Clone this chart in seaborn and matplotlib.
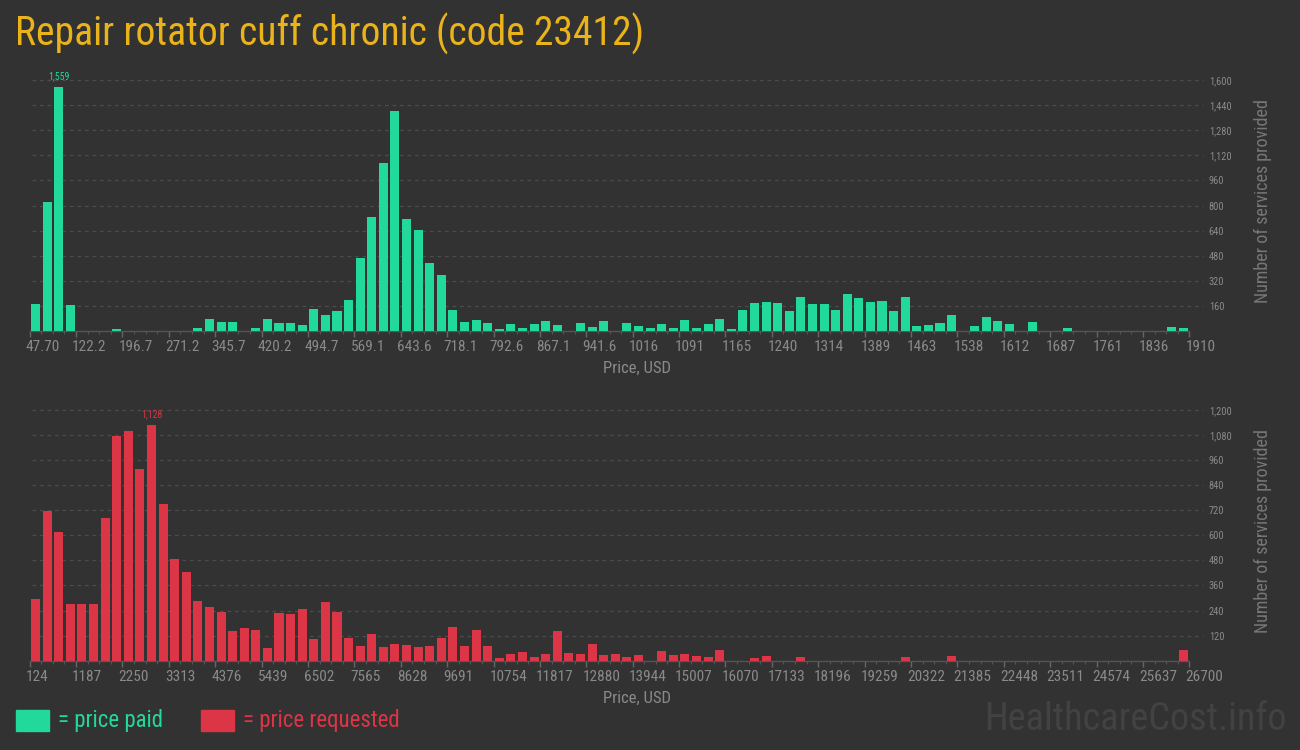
import matplotlib
matplotlib.use("Agg")
import matplotlib.pyplot as plt
from matplotlib import font_manager
from matplotlib.transforms import ScaledTranslation
import seaborn as sns
import pandas as pd

# ---------------- data ----------------
title = "Repair rotator cuff chronic (code 23412)"

paid_counts = [170, 822, 1559, 164, 0, 0, 0, 10, 0, 0,
               0, 0, 0, 0, 17, 75, 55, 55, 0, 17,
               75, 49, 49, 36, 138, 100, 126, 196, 464, 726,
               1071, 1404, 714, 643, 432, 356, 132, 55, 68, 49,
               11, 43, 17, 43, 62, 36, 0, 49, 23, 62,
               0, 49, 30, 17, 43, 17, 68, 17, 43, 75,
               11, 132, 177, 183, 177, 126, 215, 170, 170, 132,
               234, 209, 183, 190, 126, 215, 30, 36, 49, 100,
               0, 30, 87, 62, 43, 0, 55, 0, 0, 17,
               0, 0, 0, 0, 0, 0, 0, 0, 23, 17]
paid_ticks = ["47.70", "122.2", "196.7", "271.2", "345.7", "420.2", "494.7",
              "569.1", "643.6", "718.1", "792.6", "867.1", "941.6", "1016",
              "1091", "1165", "1240", "1314", "1389", "1463", "1538", "1612",
              "1687", "1761", "1836", "1910"]
paid_yticks = [160, 320, 480, 640, 800, 960, 1120, 1280, 1440, 1600]

req_counts = [295, 717, 616, 271, 271, 271, 683, 1076, 1100, 918,
              1128, 750, 487, 425, 286, 257, 233, 142, 156, 147,
              61, 228, 223, 247, 104, 281, 233, 109, 70, 128,
              65, 80, 75, 65, 70, 109, 161, 70, 147, 70,
              13, 32, 41, 18, 32, 142, 37, 32, 80, 27,
              32, 18, 27, 0, 46, 27, 32, 22, 18, 51,
              0, 0, 13, 22, 0, 0, 18, 0, 0, 0,
              0, 0, 0, 0, 0, 18, 0, 0, 0, 22,
              0, 0, 0, 0, 0, 0, 0, 0, 0, 0,
              0, 0, 0, 0, 0, 0, 0, 0, 0, 51]
req_ticks = ["124", "1187", "2250", "3313", "4376", "5439", "6502", "7565",
             "8628", "9691", "10754", "11817", "12880", "13944", "15007",
             "16070", "17133", "18196", "19259", "20322", "21385", "22448",
             "23511", "24574", "25637", "26700"]
req_yticks = [120, 240, 360, 480, 600, 720, 840, 960, 1080, 1200]

legend_labels = ["= price paid", "= price requested"]
x_label = "Price, USD"
y_label = "Number of services provided"
watermark = "HealthcareCost.info"

# ---------------- style ----------------
BG = "#323232"
GREEN = "#20d99a"
RED = "#dc3545"
TITLE_C = "#ebb31a"
TICK_C = "#8a8a8a"
GRID_C = "#4b4b4b"

sns.set_theme(style="dark", rc={"axes.facecolor": BG, "figure.facecolor": BG})
names = {f.name for f in font_manager.fontManager.ttflist}
cond = next((n for n in ["Roboto Condensed", "Liberation Sans Narrow", "Roboto"] if n in names), "DejaVu Sans")
plt.rcParams["font.family"] = [cond, "DejaVu Sans"]

fig = plt.figure(figsize=(13, 7.5), dpi=100)
W, H = 1300, 750
BIN_PX = (1189.3 - 29.7) / 100.0


def make_axes(top_px, base_px, left_px=29.7, right_px=1189.3):
    return fig.add_axes([left_px / W, 1 - base_px / H, (right_px - left_px) / W, (base_px - top_px) / H])


def draw(ax, counts, ticks, yticks, color, ymax):
    df = pd.DataFrame({"bin": list(range(len(counts))), "count": counts})
    sns.barplot(data=df, x="bin", y="count", color=color, width=0.78,
                saturation=1, ax=ax, order=list(range(len(counts))),
                linewidth=0, edgecolor="none", zorder=3)
    n = len(counts)
    ax.set_xlim(-0.5, n - 0.5)
    ax.set_ylim(0, ymax)
    ax.set_facecolor(BG)
    for s in ["top", "left", "right"]:
        ax.spines[s].set_visible(False)
    ax.spines["bottom"].set_color("#555555")
    ax.spines["bottom"].set_linewidth(1)
    # x ticks
    major = [-0.5 + 4 * k for k in range(len(ticks))]
    ax.set_xticks(major)
    ax.set_xticklabels(ticks)
    ax.set_xticks([-0.5 + k for k in range(n + 1)], minor=True)
    ax.tick_params(axis="x", which="major", length=4, width=1, color="#666666",
                   labelsize=11, labelcolor=TICK_C, pad=3, bottom=True)
    ax.tick_params(axis="x", which="minor", length=2, width=0.8, color="#555555", bottom=True)
    off = ScaledTranslation(-4 / 100, 0, fig.dpi_scale_trans)
    for lab in ax.get_xticklabels():
        lab.set_horizontalalignment("left")
        lab.set_transform(lab.get_transform() + off)
    # y ticks right
    ax.yaxis.tick_right()
    ax.set_yticks(yticks)
    ax.set_yticklabels([f"{v:,}" for v in yticks])
    ax.tick_params(axis="y", length=0, labelsize=7.5, labelcolor=TICK_C, pad=14)
    ax.grid(False)
    ax.hlines(yticks, -0.5 + 2.5 / BIN_PX, n - 0.5 + 14 / BIN_PX, colors=GRID_C,
              linestyles=(0, (3, 3)), linewidth=0.9, clip_on=False, zorder=1)
    ax.set_xlim(-0.5, n - 0.5)
    ax.set_xlabel("")
    ax.set_ylabel("")
    # max label
    imax = max(range(n), key=lambda i: counts[i])
    ax.annotate(f"{counts[imax]:,}", xy=(imax, counts[imax]), xytext=(0, 4),
                textcoords="offset points", ha="center", va="bottom",
                color=color, fontsize=7)


ax1 = make_axes(80.3, 330.7)
draw(ax1, paid_counts, paid_ticks, paid_yticks, GREEN, 1600)
ax2 = make_axes(410.0, 660.7)
draw(ax2, req_counts, req_ticks, req_yticks, RED, 1200)

# texts
fig.text(15 / W, 1 - 46 / H, title, color=TITLE_C, fontsize=28.5, ha="left", va="baseline")
fig.text(637 / W, 1 - 368 / H, x_label, color=TICK_C, fontsize=12, ha="center", va="center")
fig.text(637 / W, 1 - 698 / H, x_label, color=TICK_C, fontsize=12, ha="center", va="center")
fig.text(1263 / W, 1 - 201 / H, y_label, color="#777777", fontsize=13, rotation=90,
         ha="center", va="center")
fig.text(1263 / W, 1 - 531 / H, y_label, color="#777777", fontsize=13, rotation=90,
         ha="center", va="center")

# legend
for (x0, col, lab, tx) in [(16, GREEN, legend_labels[0], 58), (201, RED, legend_labels[1], 243)]:
    fig.patches.append(plt.Rectangle((x0 / W, 1 - 731 / H), 33 / W, 21 / H,
                                     transform=fig.transFigure, color=col, figure=fig))
    fig.text(tx / W, 1 - 720 / H, lab, color=col, fontsize=16.5, ha="left", va="center")

fig.text(1287 / W, 1 - 720 / H, watermark, color="#424242", fontsize=27.5, ha="right", va="center")

fig.savefig("out.png", dpi=100, facecolor=BG)
